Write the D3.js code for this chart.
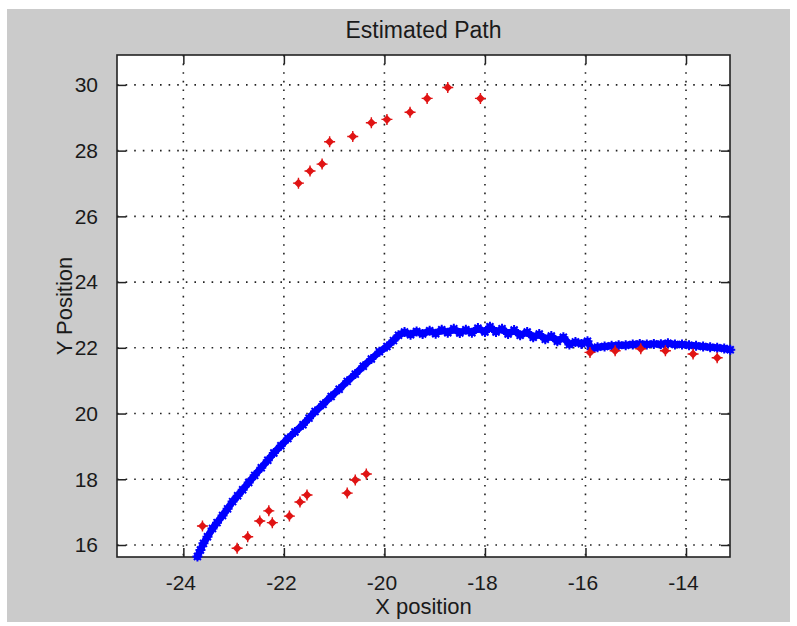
<!DOCTYPE html>
<html>
<head>
<meta charset="utf-8">
<script src="https://cdn.jsdelivr.net/npm/d3@7"></script>
<style>
  body { margin: 0; background: #fff; }
  text { font-family: "Liberation Sans", Arial, sans-serif; fill: #1a1a1a; }
</style>
</head>
<body>
<div id="chart"></div>
<script>
// Estimated path (blue) vs. measurements (red)

var pathX = [-23.72, -23.66, -23.60, -23.52, -23.42, -23.33, -23.22, -23.12, -23.02, -22.92,
  -22.82, -22.70, -22.58, -22.45, -22.32, -22.20, -22.06, -21.92, -21.78, -21.62,
  -21.50, -21.38, -21.22, -21.06, -20.90, -20.74, -20.58, -20.42, -20.26, -20.10,
  -19.95, -19.82, -19.72, -19.60, -19.48, -19.36, -19.24, -19.10, -18.98, -18.86,
  -18.74, -18.62, -18.50, -18.38, -18.26, -18.14, -18.00, -17.90, -17.78, -17.66,
  -17.54, -17.42, -17.30, -17.16, -17.04, -16.92, -16.80, -16.68, -16.56, -16.44,
  -16.32, -16.20, -16.08, -15.96, -15.88, -15.76, -15.62, -15.48, -15.34, -15.20,
  -15.06, -14.92, -14.78, -14.64, -14.50, -14.36, -14.22, -14.08, -13.94, -13.80,
  -13.66, -13.52, -13.38, -13.24, -13.12]
var pathY = [15.65, 15.85, 16.05, 16.25, 16.50, 16.68, 16.90, 17.10, 17.32, 17.50,
  17.68, 17.90, 18.12, 18.35, 18.58, 18.80, 19.02, 19.24, 19.44, 19.66,
  19.86, 20.06, 20.28, 20.52, 20.74, 20.98, 21.20, 21.44, 21.66, 21.88,
  22.04, 22.22, 22.38, 22.48, 22.40, 22.50, 22.42, 22.52, 22.43, 22.55,
  22.46, 22.58, 22.45, 22.55, 22.46, 22.60, 22.48, 22.64, 22.48, 22.58,
  22.42, 22.54, 22.38, 22.48, 22.32, 22.42, 22.26, 22.36, 22.20, 22.32,
  22.10, 22.18, 22.12, 22.20, 21.96, 22.02, 22.04, 22.06, 22.08, 22.08,
  22.10, 22.12, 22.10, 22.12, 22.11, 22.14, 22.10, 22.10, 22.08, 22.06,
  22.04, 22.02, 22.00, 21.98, 21.94]

var measX = [-21.71, -21.48, -21.24, -21.09, -20.63, -20.26, -19.95, -19.49, -19.15, -18.74, -18.09,
  -23.62, -22.93, -22.72, -22.48, -22.30, -22.23, -21.89, -21.68, -21.54, -20.74, -20.58, -20.36,
  -15.91, -15.41, -14.90, -14.41, -13.86, -13.38]
var measY = [27.01, 27.38, 27.59, 28.27, 28.43, 28.85, 28.95, 29.17, 29.59, 29.92, 29.59,
  16.58, 15.90, 16.25, 16.73, 17.04, 16.68, 16.88, 17.31, 17.52, 17.58, 17.98, 18.16,
  21.86, 21.91, 21.97, 21.91, 21.81, 21.70]

var xTicks = [-24, -22, -20, -18, -16, -14]
var yTicks = [16, 18, 20, 22, 24, 26, 28, 30]

var W = 797, H = 626
var box = {left: 117, top: 55, right: 730, bottom: 557}

var svg = d3.select('#chart').append('svg')
  .attr('width', W)
  .attr('height', H)

// Figure background
svg.append('rect')
  .attr('x', 7).attr('y', 9)
  .attr('width', 783).attr('height', 613)
  .attr('fill', '#cbcbcb')

// Scales

var x = d3.scaleLinear()
  .domain([-25.32, -13.125])
  .range([box.left, box.right])

var y = d3.scaleLinear()
  .domain([15.635, 30.91])
  .range([box.bottom, box.top])

svg.append('rect')
  .attr('x', box.left).attr('y', box.top)
  .attr('width', box.right - box.left).attr('height', box.bottom - box.top)
  .attr('fill', '#fff')

// Grid

svg.selectAll('.vgrid')
  .data(xTicks)
  .enter().append('line')
  .attr('class', 'vgrid')
  .attr('x1', function(d){ return x(d) }).attr('x2', function(d){ return x(d) })
  .attr('y1', box.top).attr('y2', box.bottom)

svg.selectAll('.hgrid')
  .data(yTicks)
  .enter().append('line')
  .attr('class', 'hgrid')
  .attr('y1', function(d){ return y(d) }).attr('y2', function(d){ return y(d) })
  .attr('x1', box.left).attr('x2', box.right)

svg.selectAll('.vgrid, .hgrid')
  .attr('stroke', '#222')
  .attr('stroke-width', 1.6)
  .attr('stroke-dasharray', '1.6,7')

// Axes with inward ticks on all four sides

var tickLen = 9
var fmt = function(d){ return d < 0 ? '-' + Math.abs(d) : String(d) }

var xAxis = svg.append('g')
  .attr('transform', 'translate(0,' + box.bottom + ')')
  .call(d3.axisBottom(x).tickValues(xTicks).tickSize(-tickLen).tickPadding(tickLen + 9).tickFormat(fmt))
svg.append('g')
  .attr('transform', 'translate(0,' + box.top + ')')
  .call(d3.axisTop(x).tickValues(xTicks).tickSize(-tickLen).tickFormat(''))
var yAxis = svg.append('g')
  .attr('transform', 'translate(' + box.left + ',0)')
  .call(d3.axisLeft(y).tickValues(yTicks).tickSize(-tickLen).tickPadding(tickLen + 10).tickFormat(fmt))
svg.append('g')
  .attr('transform', 'translate(' + box.right + ',0)')
  .call(d3.axisRight(y).tickValues(yTicks).tickSize(-tickLen).tickFormat(''))

svg.selectAll('.domain').remove()
svg.selectAll('.tick line').attr('stroke', '#222').attr('stroke-width', 1.5)
svg.selectAll('.tick text')
  .style('font-family', '"Liberation Sans", Arial, sans-serif')
  .style('font-size', '21px')
  .attr('fill', '#1a1a1a')
xAxis.selectAll('.tick text').attr('dx', '-3')

svg.append('rect')
  .attr('x', box.left).attr('y', box.top)
  .attr('width', box.right - box.left).attr('height', box.bottom - box.top)
  .attr('fill', 'none')
  .attr('stroke', '#222')
  .attr('stroke-width', 1.6)

// Estimated path

var pathData = pathX.map(function(d, i){ return [d, pathY[i]] })
var measData = measX.map(function(d, i){ return [d, measY[i]] })

var line = d3.line()
  .x(function(d){ return x(d[0]) })
  .y(function(d){ return y(d[1]) })

svg.append('path')
  .datum(pathData)
  .attr('d', line)
  .attr('fill', 'none')
  .attr('stroke', '#0000ff')
  .attr('stroke-width', 7)
  .attr('stroke-linejoin', 'round')
  .attr('stroke-linecap', 'round')

svg.selectAll('.est')
  .data(pathData)
  .enter().append('path')
  .attr('class', 'est')
  .attr('transform', function(d){ return 'translate(' + x(d[0]) + ',' + y(d[1]) + ')' })
  .attr('d', 'M-5,0H5M0,-5V5M-3.5,-3.5L3.5,3.5M-3.5,3.5L3.5,-3.5')
  .attr('stroke', '#0000ff')
  .attr('stroke-width', 2)

// Measurements

var meas = svg.selectAll('.meas')
  .data(measData)
  .enter().append('g')
  .attr('class', 'meas')
  .attr('transform', function(d){ return 'translate(' + x(d[0]) + ',' + y(d[1]) + ')' })

meas.append('path')
  .attr('d', 'M0,-4.5L4.5,0L0,4.5L-4.5,0Z')
  .attr('fill', '#e01414')
meas.append('path')
  .attr('d', 'M-5.5,0H5.5M0,-5.5V5.5')
  .attr('stroke', '#e01414')
  .attr('stroke-width', 1.4)

// Labels

svg.append('text')
  .attr('x', (box.left + box.right) / 2)
  .attr('y', 37.5)
  .attr('text-anchor', 'middle')
  .style('font-size', '23px')
  .text('Estimated Path')

svg.append('text')
  .attr('x', (box.left + box.right) / 2)
  .attr('y', 614)
  .attr('text-anchor', 'middle')
  .style('font-size', '22px')
  .text('X position')

svg.append('text')
  .attr('transform', 'translate(72,' + (box.top + box.bottom) / 2 + ') rotate(-90)')
  .attr('text-anchor', 'middle')
  .style('font-size', '22px')
  .text('Y Position')
</script>
</body>
</html>
